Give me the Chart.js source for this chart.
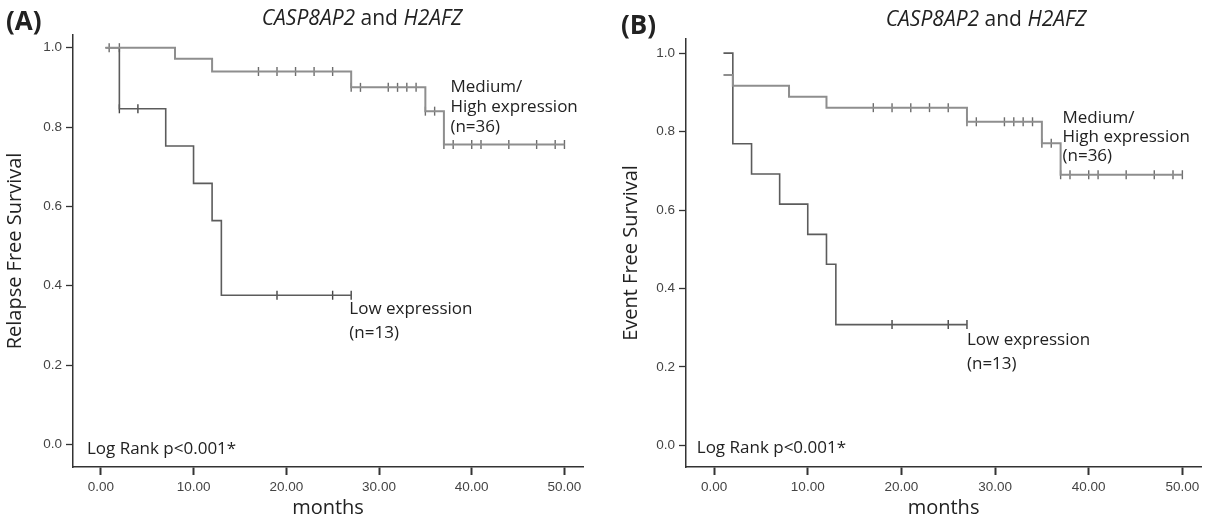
<!DOCTYPE html>
<html>
<head>
<meta charset="utf-8">
<script src="https://cdn.jsdelivr.net/npm/chart.js@4.4.1/dist/chart.umd.min.js"></script>
<style>
body{margin:0;background:#fff;width:1207px;height:520px;position:relative;overflow:hidden;font-family:"Open Sans",sans-serif;color:#222}
.panel{position:absolute;top:0;height:520px}
#pa{left:0;width:600px}
#pb{left:600px;width:607px}
canvas{position:absolute;left:0;top:0}
.tag{position:absolute;font-weight:bold;font-size:26px;line-height:1;z-index:2}
.title{position:absolute;font-size:21px;line-height:1;white-space:nowrap;transform:translateX(-50%);z-index:2}
</style>
</head>
<body>
<div class="panel" id="pa">
  <canvas id="ca" width="600" height="520"></canvas>
  <div class="tag" style="left:6px;top:7px">(A)</div>
  <div class="title" style="left:362px;top:7px"><i>CASP8AP2</i> and <i>H2AFZ</i></div>
</div>
<div class="panel" id="pb">
  <canvas id="cb" width="607" height="520"></canvas>
  <div class="tag" style="left:21px;top:11px">(B)</div>
  <div class="title" style="left:386px;top:8px"><i>CASP8AP2</i> and <i>H2AFZ</i></div>
</div>
<script>
// axis ticks
const xTicks = [0, 10, 20, 30, 40, 50]
const yTicks = [0, 0.2, 0.4, 0.6, 0.8, 1.0]

// (A) relapse free survival
const highTimeA = [0.5, 8, 12, 27, 35, 37, 50]
const highSurvA = [1.0, 0.972, 0.94, 0.90, 0.84, 0.756, 0.756]
const lowTimeA = [0.5, 2, 7, 10, 12, 13, 27]
const lowSurvA = [1.0, 0.846, 0.752, 0.658, 0.564, 0.376, 0.376]
const highCensTimeA = [0.9, 2, 17, 19, 21, 23, 25, 27, 28, 31, 32, 33, 34, 35, 36, 37, 38, 40, 41, 44, 47, 49, 50]
const highCensSurvA = [1.0, 1.0, 0.94, 0.94, 0.94, 0.94, 0.94, 0.90, 0.90, 0.90, 0.90, 0.90, 0.90, 0.84, 0.84, 0.756, 0.756, 0.756, 0.756, 0.756, 0.756, 0.756, 0.756]
const lowCensTimeA = [2, 4, 19, 25, 27]
const lowCensSurvA = [0.846, 0.846, 0.376, 0.376, 0.376]

// (B) event free survival
const highTimeB = [1, 2, 8, 12, 27, 35, 37, 50]
const highSurvB = [0.944, 0.917, 0.889, 0.861, 0.825, 0.77, 0.69, 0.69]
const lowTimeB = [1, 2, 4, 7, 10, 12, 13, 27]
const lowSurvB = [1.0, 0.769, 0.692, 0.615, 0.538, 0.462, 0.308, 0.308]
const highCensTimeB = [17, 19, 21, 23, 25, 27, 28, 31, 32, 33, 34, 35, 36, 37, 38, 40, 41, 44, 47, 49, 50]
const highCensSurvB = [0.861, 0.861, 0.861, 0.861, 0.861, 0.825, 0.825, 0.825, 0.825, 0.825, 0.825, 0.77, 0.77, 0.69, 0.69, 0.69, 0.69, 0.69, 0.69, 0.69, 0.69]
const lowCensTimeB = [19, 25, 27]
const lowCensSurvB = [0.308, 0.308, 0.308]

const highLabel = ["Medium/", "High expression", "(n=36)"]
const lowLabel = ["Low expression", "(n=13)"]
const pLabel = ["Log Rank p<0.001*"]

const highColor = "#8e8e8e"
const lowColor = "#5c5c5c"

Chart.defaults.font.family = '"Open Sans", sans-serif'

function pairs(xs, ys) {
  return xs.map((x, i) => ({x: x, y: ys[i]}))
}

// text placed in data coordinates
const notes = {
  id: "notes",
  afterDatasetsDraw(chart, args, opts) {
    const ctx = chart.ctx
    const sx = chart.scales.x
    const sy = chart.scales.y
    ctx.save()
    ctx.font = '17px "Open Sans", sans-serif'
    ctx.fillStyle = "#222"
    ctx.textBaseline = "middle"
    ctx.textAlign = "left"
    for (const n of opts.items) {
      const px = sx.getPixelForValue(n.x)
      const py = sy.getPixelForValue(n.y)
      n.lines.forEach((t, i) => ctx.fillText(t, px, py + i * n.lh))
    }
    ctx.restore()
  }
}

function makeChart(id, c) {

const ctx = document.getElementById(id).getContext("2d")

return new Chart(ctx, {

type: "line",

data: {
datasets: [
{
data: pairs(c.highT, c.highS),
stepped: true,
borderColor: highColor,
borderWidth: 2,
pointRadius: 0
},
{
data: pairs(c.lowT, c.lowS),
stepped: true,
borderColor: lowColor,
borderWidth: 1.6,
pointRadius: 0
},
{
data: pairs(c.highCT, c.highCS),
showLine: false,
pointStyle: "line",
rotation: 90,
pointRadius: 4.5,
pointBorderColor: "#6c6c6c",
pointBorderWidth: 1.4
},
{
data: pairs(c.lowCT, c.lowCS),
showLine: false,
pointStyle: "line",
rotation: 90,
pointRadius: 4.5,
pointBorderColor: "#444",
pointBorderWidth: 1.4
}
]
},

options: {
responsive: false,
animation: false,
devicePixelRatio: 1,
layout: {padding: {left: 0, top: c.top, right: c.right, bottom: 0}},
plugins: {
legend: {display: false},
tooltip: {enabled: false},
notes: {items: c.notes}
},
scales: {
x: {
type: "linear",
min: -3,
max: 52,
afterBuildTicks: s => { s.ticks = xTicks.map(v => ({value: v})) },
afterFit: s => { s.height = c.xh; s.paddingLeft = 0; s.paddingRight = 0 },
grid: {drawOnChartArea: false, tickLength: 8, tickWidth: 2, color: "#333"},
border: {color: "#333", width: 1.5},
ticks: {callback: v => v.toFixed(2), font: {family: '"Liberation Sans", Arial, sans-serif', size: 13.5}, color: "#444", padding: 4, maxRotation: 0, autoSkip: false},
title: {display: true, text: "months", font: {size: 20}, color: "#222", padding: 0}
},
y: {
min: c.ymin,
max: c.ymax,
afterBuildTicks: s => { s.ticks = yTicks.map(v => ({value: v})) },
afterFit: s => { s.width = c.yw; s.paddingTop = 0; s.paddingBottom = 0 },
grid: {drawOnChartArea: false, tickLength: 7, tickWidth: 1.3, color: "#333"},
border: {color: "#333", width: 1.5},
ticks: {callback: v => v.toFixed(1), font: {family: '"Liberation Sans", Arial, sans-serif', size: 13.5}, color: "#444", padding: 4, autoSkip: false},
title: {display: true, text: c.ytitle, font: {size: 20}, color: "#222", padding: {top: c.ytp, bottom: 0}}
}
}
},

plugins: [notes]

})

}

makeChart("ca", {
highT: highTimeA, highS: highSurvA, lowT: lowTimeA, lowS: lowSurvA,
highCT: highCensTimeA, highCS: highCensSurvA, lowCT: lowCensTimeA, lowCS: lowCensSurvA,
ymin: -0.057, ymax: 1.032, top: 35, right: 17, yw: 73, xh: 53, ytp: 3,
ytitle: "Relapse Free Survival",
notes: [
{x: 37.7, y: 0.901, lines: highLabel, lh: 20},
{x: 26.8, y: 0.341, lines: lowLabel, lh: 24},
{x: -1.5, y: -0.013, lines: pLabel, lh: 20}
]
})

makeChart("cb", {
highT: highTimeB, highS: highSurvB, lowT: lowTimeB, lowS: lowSurvB,
highCT: highCensTimeB, highCS: highCensSurvB, lowCT: lowCensTimeB, lowCS: lowCensSurvB,
ymin: -0.055, ymax: 1.036, top: 39, right: 2, yw: 86, xh: 53, ytp: 19,
ytitle: "Event Free Survival",
notes: [
{x: 37.2, y: 0.835, lines: highLabel, lh: 19},
{x: 27.0, y: 0.269, lines: lowLabel, lh: 24},
{x: -1.85, y: -0.008, lines: pLabel, lh: 20}
]
})
</script>
</body>
</html>
